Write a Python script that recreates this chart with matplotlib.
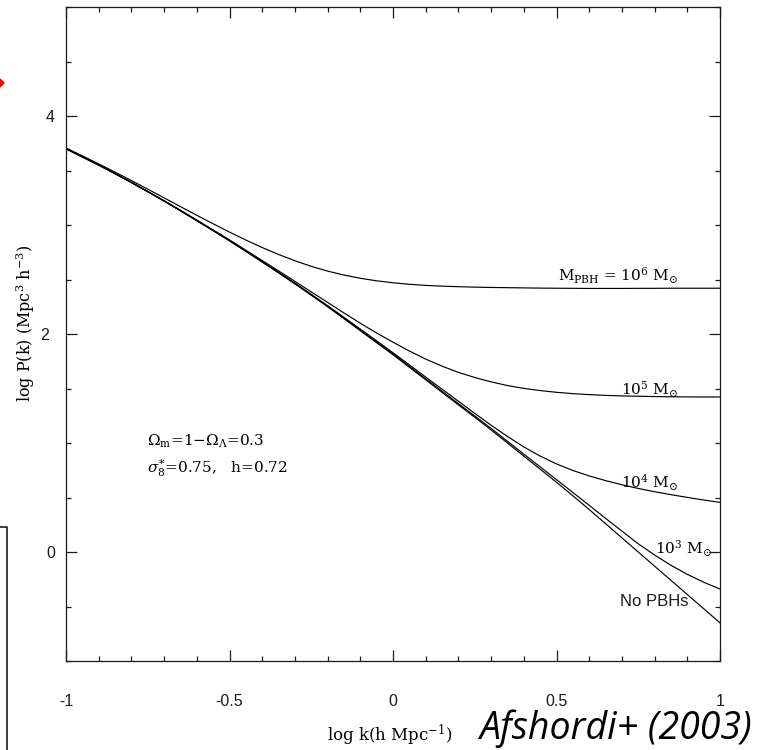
import matplotlib

matplotlib.use("Agg")
import matplotlib.pyplot as plt
from matplotlib.lines import Line2D
from matplotlib.ticker import MultipleLocator

# log k (h/Mpc) sample points (every 0.05)
log_k = [-1.00, -0.95, -0.90, -0.85, -0.80, -0.75, -0.70, -0.65, -0.60, -0.55,
         -0.50, -0.45, -0.40, -0.35, -0.30, -0.25, -0.20, -0.15, -0.10, -0.05,
         0.00, 0.05, 0.10, 0.15, 0.20, 0.25, 0.30, 0.35, 0.40, 0.45,
         0.50, 0.55, 0.60, 0.65, 0.70, 0.75, 0.80, 0.85, 0.90, 0.95, 1.00]

# log P(k) for each model
no_pbh = [3.700, 3.625, 3.550, 3.471, 3.390, 3.306, 3.220, 3.131, 3.040, 2.948,
          2.855, 2.758, 2.660, 2.561, 2.460, 2.356, 2.250, 2.141, 2.030, 1.920,
          1.810, 1.695, 1.580, 1.465, 1.350, 1.236, 1.120, 1.000, 0.880, 0.760,
          0.640, 0.516, 0.390, 0.260, 0.130, 0.000, -0.130, -0.260, -0.390, -0.520, -0.650]
pbh_1e3 = [3.700, 3.625, 3.550, 3.471, 3.390, 3.306, 3.220, 3.131, 3.040, 2.949,
           2.856, 2.760, 2.662, 2.563, 2.463, 2.359, 2.254, 2.145, 2.035, 1.926,
           1.817, 1.703, 1.589, 1.475, 1.361, 1.248, 1.134, 1.016, 0.898, 0.781,
           0.664, 0.546, 0.428, 0.309, 0.192, 0.075, -0.028, -0.122, -0.205, -0.277, -0.340]
pbh_1e4 = [3.700, 3.625, 3.550, 3.471, 3.390, 3.306, 3.221, 3.132, 3.042, 2.950,
           2.858, 2.762, 2.665, 2.567, 2.467, 2.364, 2.260, 2.153, 2.045, 1.937,
           1.828, 1.717, 1.605, 1.494, 1.383, 1.272, 1.163, 1.060, 0.964, 0.880,
           0.808, 0.748, 0.698, 0.655, 0.617, 0.583, 0.553, 0.526, 0.501, 0.477, 0.455]
pbh_1e5 = [3.701, 3.626, 3.551, 3.472, 3.392, 3.308, 3.223, 3.135, 3.045, 2.955,
           2.863, 2.769, 2.674, 2.579, 2.483, 2.386, 2.290, 2.193, 2.099, 2.009,
           1.925, 1.844, 1.770, 1.705, 1.648, 1.601, 1.561, 1.527, 1.501, 1.481,
           1.465, 1.453, 1.444, 1.437, 1.432, 1.429, 1.426, 1.424, 1.423, 1.422, 1.422]
pbh_1e6 = [3.707, 3.634, 3.561, 3.485, 3.408, 3.329, 3.249, 3.169, 3.089, 3.011,
           2.935, 2.862, 2.793, 2.730, 2.672, 2.621, 2.577, 2.541, 2.511, 2.488,
           2.470, 2.456, 2.446, 2.439, 2.434, 2.430, 2.427, 2.425, 2.423, 2.421,
           2.420, 2.419, 2.418, 2.418, 2.418, 2.419, 2.419, 2.420, 2.420, 2.420, 2.420]

x_tick_vals = [-1.0, -0.5, 0.0, 0.5, 1.0]
x_tick_text = ["-1", "-0.5", "0", "0.5", "1"]
y_tick_vals = [0, 2, 4]
y_tick_text = ["0", "2", "4"]

plt.rcParams["mathtext.fontset"] = "dejavuserif"
SERIF = "DejaVu Serif"
SANS = "Liberation Sans"
INK = "#1a1a1a"

fig = plt.figure(figsize=(7.7, 7.5), dpi=100, facecolor="white")
ax = fig.add_axes([66 / 770, 1 - 661 / 750, 654 / 770, 654 / 750])

for series in (no_pbh, pbh_1e3, pbh_1e4, pbh_1e5, pbh_1e6):
    ax.plot(log_k, series, color="black", lw=0.85)

ax.set_xlim(-1, 1)
ax.set_ylim(-1, 5)
ax.xaxis.set_minor_locator(MultipleLocator(0.1))
ax.yaxis.set_minor_locator(MultipleLocator(0.5))
ax.set_xticks(x_tick_vals)
ax.set_xticklabels(x_tick_text, family=SANS, fontsize=11.5, color=INK)
ax.set_yticks(y_tick_vals)
ax.set_yticklabels(y_tick_text, family=SANS, fontsize=11.5, color=INK)

ax.tick_params(which="both", direction="in", top=True, right=True, color=INK, width=0.9)
ax.tick_params(which="major", length=8)
ax.tick_params(which="minor", length=3.8)
ax.tick_params(axis="x", which="major", pad=24)
ax.tick_params(axis="y", which="major", pad=8)
for spine in ax.spines.values():
    spine.set_color(INK)
    spine.set_linewidth(0.9)

# the "2" label sits a bit further out in the original
ax.get_yticklabels()[1].set_x(-0.009)

# curve labels
label_kw = dict(family=SERIF, fontsize=11, ha="center", va="center")
ax.text(0.688, 2.53, r"M$_{\rm PBH}$ = 10$^{6}$ M$_{\odot}$", **label_kw)
ax.text(0.786, 1.49, r"10$^{5}$ M$_{\odot}$", **label_kw)
ax.text(0.786, 0.63, r"10$^{4}$ M$_{\odot}$", **label_kw)
ax.text(0.89, 0.03, r"10$^{3}$ M$_{\odot}$", **label_kw)
ax.text(0.798, -0.45, "No PBHs", family=SANS, fontsize=12, ha="center",
        va="center", color=INK)

ax.text(-0.752, 1.02, r"$\Omega_{\rm m}$=1$-$$\Omega_{\Lambda}$=0.3", family=SERIF,
        fontsize=11, ha="left", va="center")
ax.text(-0.752, 0.77, r"$\sigma^{*}_{8}$=0.75,   h=0.72", family=SERIF,
        fontsize=11, ha="left", va="center")

# axis labels
fig.text(26 / 770, 1 - 323 / 750, r"log P(k) (Mpc$^{3}$ h$^{-3}$)", family=SERIF,
         fontsize=11.5, rotation=90, ha="center", va="center")
fig.text(390 / 770, 1 - 735 / 750, r"log k(h Mpc$^{-1}$)", family=SERIF,
         fontsize=12, ha="center", va="center")

# citation
fig.text(615 / 770, 1 - 729 / 750, "Afshordi+ (2003)", family="Open Sans",
         style="italic", fontsize=27, ha="center", va="center", color="black")

# slide artefacts: red arrow tip and box edge at the left
fig.patches.append(plt.Polygon([[0.0, 1 - 79 / 750], [4 / 770, 1 - 83 / 750],
                                [0.0, 1 - 87 / 750]], closed=True,
                               transform=fig.transFigure, color="red"))
fig.lines.append(Line2D([0, 7 / 770, 7 / 770], [1 - 527 / 750, 1 - 527 / 750, 0],
                        transform=fig.transFigure, color=INK, lw=1.2))

fig.savefig("out.png", dpi=100, facecolor="white")
